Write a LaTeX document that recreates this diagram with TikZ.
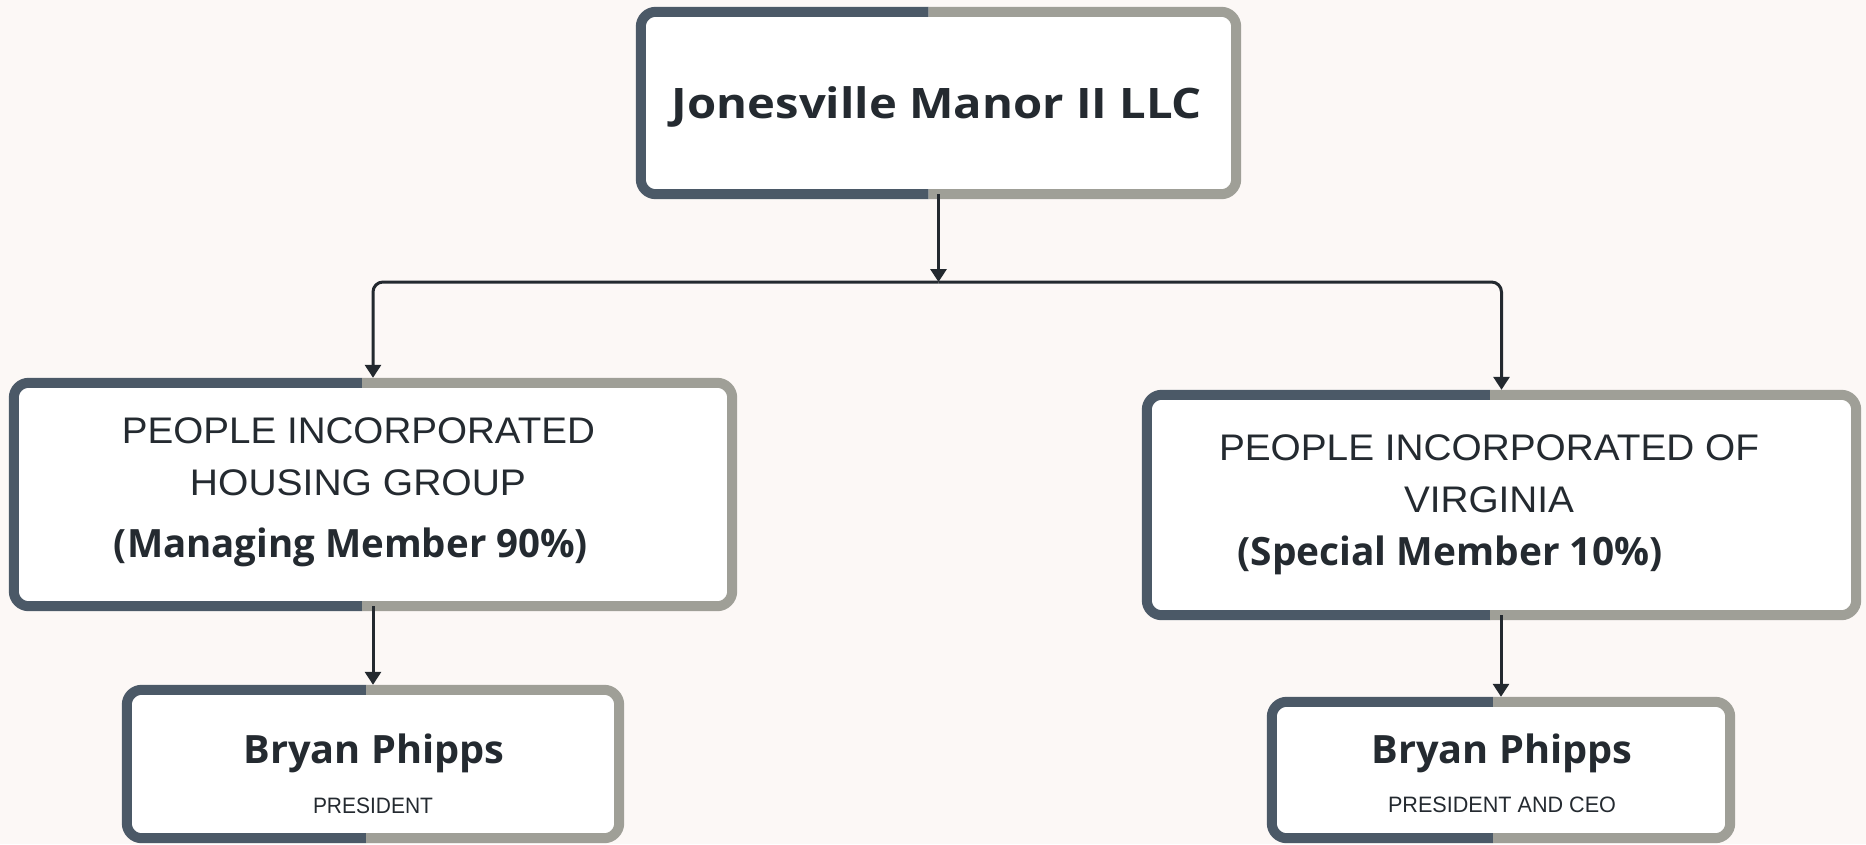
\documentclass[tikz,border=0pt]{standalone}
\usepackage{fontspec}
\usepackage{graphicx}
\setmainfont{Open Sans}
\newfontfamily\capsfont{Liberation Sans}
\usetikzlibrary{arrows.meta,calc}
\definecolor{darkc}{HTML}{4B5967}
\definecolor{lightc}{HTML}{9F9F97}
\definecolor{bgc}{HTML}{FCF8F6}
\definecolor{textc}{HTML}{242A30}
\definecolor{linec}{HTML}{23292F}
\newcommand\fitw[2]{\resizebox{#1}{\height}{#2}}
\tikzset{
  box/.style={rectangle, rounded corners=15pt, fill=white, draw=none, inner sep=0pt},
  txt/.style={anchor=base, inner sep=0pt, text=textc},
  conn/.style={draw=linec, line width=3pt, -{Triangle[width=16pt,length=13pt]}},
  border/.style={line width=10pt, rounded corners=15pt},
  ttl/.style={font=\bfseries\fontsize{42}{50}\selectfont},
  org/.style={font=\capsfont\fontsize{37}{45}\selectfont},
  role/.style={font=\bfseries\fontsize{39}{47}\selectfont},
  pname/.style={font=\bfseries\fontsize{39}{47}\selectfont},
  ptitle/.style={font=\capsfont\fontsize{22.3}{27}\selectfont},
}
\newcommand\twotone[2]{%
  \path (#2,0) coordinate (splt);
  \path ([yshift=20pt]#1.north) coordinate (tt);
  \path ([yshift=-20pt]#1.south) coordinate (bb);
  \begin{scope}
    \clip ([shift={(-20pt,20pt)}]#1.north west) rectangle (bb -| splt);
    \draw[border, draw=darkc] (#1.north west) rectangle (#1.south east);
  \end{scope}
  \begin{scope}
    \clip (tt -| splt) rectangle ([shift={(20pt,-20pt)}]#1.south east);
    \draw[border, draw=lightc] (#1.north west) rectangle (#1.south east);
  \end{scope}
}
\begin{document}
\begin{tikzpicture}[x=1pt,y=-1pt]
\fill[bgc] (0,0) rectangle (1866,844);
\useasboundingbox (0,0) rectangle (1866,844);

% boxes
\node[box, minimum width=595pt, minimum height=182pt] (top) at (938.5,103) {};
\node[box, minimum width=718pt, minimum height=223pt] (lmid) at (373,494.5) {};
\node[box, minimum width=709pt, minimum height=220pt] (rmid) at (1501.5,505) {};
\node[box, minimum width=492pt, minimum height=148pt] (lbot) at (373,764) {};
\node[box, minimum width=458pt, minimum height=136pt] (rbot) at (1501,770) {};

\twotone{top}{928.5}
\twotone{lmid}{362}
\twotone{rmid}{1490}
\twotone{lbot}{366}
\twotone{rbot}{1493}

% texts
\node[txt, ttl] (t1) at (937,118) {\fitw{530pt}{Jonesville Manor II LLC}};

\node[txt, org] (l1) at (358.5,443) {\fitw{473pt}{PEOPLE INCORPORATED}};
\node[txt, org] (l2) at (358,495) {\fitw{336pt}{HOUSING GROUP}};
\node[txt, role] (l3) at (351,557) {\fitw{474pt}{(Managing Member 90\%)}};

\node[txt, org] (r1) at (1489,460) {\fitw{540pt}{PEOPLE INCORPORATED OF}};
\node[txt, org] (r2) at (1489,512) {\fitw{170pt}{VIRGINIA}};
\node[txt, role] (r3) at (1450,565) {\fitw{425pt}{(Special Member 10\%)}};

\node[txt, pname] (b1) at (374,763) {\fitw{261pt}{Bryan Phipps}};
\node[txt, ptitle] (b2) at (373,813) {\fitw{120pt}{PRESIDENT}};

\node[txt, pname] (c1) at (1502,763) {\fitw{261pt}{Bryan Phipps}};
\node[txt, ptitle] (c2) at (1502,812) {\fitw{228pt}{PRESIDENT AND CEO}};

% connectors
\coordinate (busc) at (938.5,282);
\draw[conn] (top.south) -- (busc);
\draw[conn, rounded corners=10pt] (busc) -| ([yshift=5pt]lmid.north);
\draw[conn, rounded corners=10pt] (busc) -| ([yshift=5pt]rmid.north);
\draw[conn] (lmid.south) -- ([yshift=5pt]lbot.north);
\draw[conn] (rmid.south -| rbot.north) -- ([yshift=5pt]rbot.north);
\end{tikzpicture}
\end{document}
